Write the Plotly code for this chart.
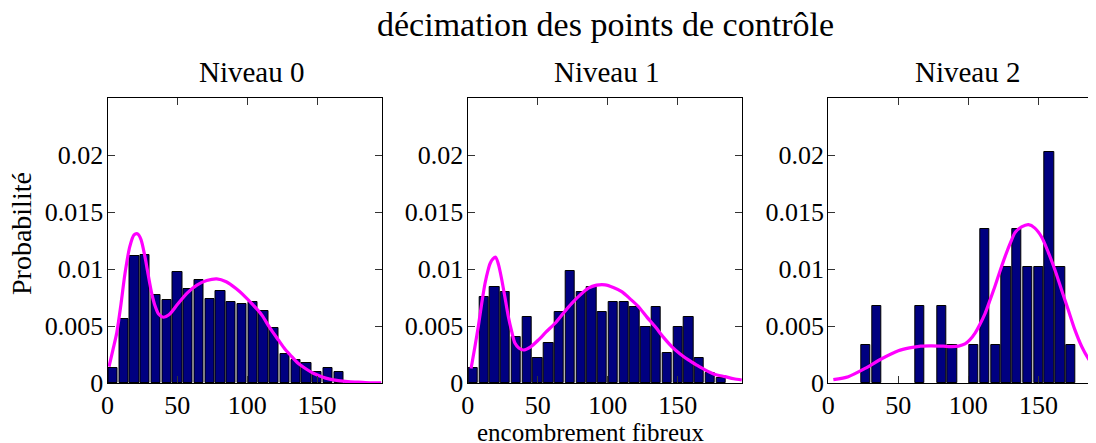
import plotly.graph_objects as go

# ---------------- data ----------------
main_title = "décimation des points de contrôle"
panel_titles = ["Niveau 0", "Niveau 1", "Niveau 2"]
x_label = "encombrement fibreux"
y_label = "Probabilité"

bin_width = 7.7
n_bins = 24

x_tick_vals = [0, 50, 100, 150]
x_tick_text = ["0", "50", "100", "150"]
y_tick_vals = [0, 0.005, 0.01, 0.015, 0.02]
y_tick_text = ["0", "0.005", "0.01", "0.015", "0.02"]

hist_level0 = [0.00132, 0.00564, 0.01117, 0.01126, 0.00775, 0.00734, 0.00977, 0.00825,
               0.00904, 0.00740, 0.00813, 0.00716, 0.00693, 0.00710, 0.00632, 0.00482,
               0.00260, 0.00205, 0.00181, 0.00099, 0.00132, 0.00102, 0.00015, 0.00012]
hist_level1 = [0.00132, 0.00760, 0.00848, 0.00804, 0.00404, 0.00579, 0.00222, 0.00357,
               0.00623, 0.00982, 0.00804, 0.00848, 0.00623, 0.00713, 0.00713, 0.00667,
               0.00491, 0.00667, 0.00269, 0.00491, 0.00579, 0.00222, 0.00091, 0.00047]
hist_level2 = [0, 0, 0, 0.00340, 0.00677, 0, 0, 0,
               0.00677, 0, 0.00677, 0.00340, 0, 0.00340, 0.01355, 0.00340,
               0.01017, 0.01355, 0.01017, 0.01017, 0.02030, 0.01017, 0.00340, 0]

fit0_x = [1.1, 4, 6.6, 9.5, 12.5, 16, 19, 21.4, 24, 26.8, 29, 31.6, 34, 36.4, 40, 44, 50,
          57, 64, 71, 78.2, 85, 92, 98.4, 104, 110.4, 116, 122.3, 127, 131.9, 136, 141.4,
          147, 153.3, 159, 165.2, 172, 179.6, 188, 196]
fit0_y = [0.00146, 0.0030, 0.0044, 0.0068, 0.0096, 0.0120, 0.0130, 0.0131, 0.0126, 0.0111,
          0.0096, 0.0079, 0.0068, 0.0061, 0.00579, 0.0060, 0.0069, 0.0079, 0.0086, 0.0090,
          0.00915, 0.0089, 0.0083, 0.0076, 0.0069, 0.0060, 0.0049, 0.0038, 0.0030, 0.00234,
          0.0018, 0.00132, 0.0009, 0.00058, 0.00037, 0.00023, 0.00014, 0.0001, 0.00005, 0.00003]

fit1_x = [2.4, 5, 7.6, 10, 12.4, 14.5, 16, 18, 20, 22, 24.3, 26.5, 29, 31.5, 33.8, 36.5,
          39.8, 45, 50.5, 56, 62.4, 68, 74.3, 80, 86.2, 92, 98.1, 104, 110, 116, 121.9, 128,
          133.8, 140, 145.7, 151.5, 157.6, 163.5, 169.5, 176, 183.8, 190, 195.7]
fit1_y = [0.0013, 0.0031, 0.0050, 0.0070, 0.00877, 0.0099, 0.0105, 0.0109, 0.01105, 0.0104,
          0.0091, 0.0076, 0.00585, 0.0045, 0.0035, 0.0031, 0.00292, 0.0032, 0.0038, 0.0045,
          0.00526, 0.0061, 0.0070, 0.0077, 0.00833, 0.0086, 0.00863, 0.0084, 0.00804, 0.0074,
          0.00673, 0.0058, 0.00497, 0.0040, 0.00322, 0.0026, 0.00205, 0.0016, 0.00117, 0.0008,
          0.00058, 0.0004, 0.00029]

fit2_x = [3.6, 14.3, 26.2, 38.1, 50, 58, 66, 74, 82, 88, 93, 97.6, 101, 104.8, 108,
          111.9, 115.5, 119, 122.5, 126.2, 130, 133.3, 138, 142.9, 147.5, 152.4, 157, 161.9,
          166.5, 171.4, 176, 181, 186, 191.2, 192.2]
fit2_y = [0.00032, 0.00058, 0.0013, 0.00215, 0.00285, 0.0031, 0.00326, 0.00328, 0.00325,
          0.00322, 0.00326, 0.00345, 0.0038, 0.0044, 0.0051, 0.0061, 0.0073, 0.0085, 0.0098,
          0.0111, 0.0123, 0.0132, 0.0137, 0.0139, 0.0136, 0.0128, 0.0115, 0.0099, 0.0082,
          0.0064, 0.0047, 0.0032, 0.0021, 0.0013, 0.0012]

x_ranges = [[0, 196.3], [0, 196.1], [0, 192.2]]
y_range = [0, 0.025]

# ---------------- layout geometry (pixels, screen coordinates) ----------------
W, H = 1096, 443
OFF = 8  # the page body shifts the figure by 8 px
panel_px = [(107.5, 381.7), (467.7, 742.3), (828.3, 1097.5)]
top_px, bottom_px = 98.0, 383.3

FONT = "Liberation Serif"
bar_fill = "#000080"
curve_col = "#ff00ff"

bin_centers = [(i + 0.5) * bin_width for i in range(n_bins)]
hists = [hist_level0, hist_level1, hist_level2]
fits = [(fit0_x, fit0_y), (fit1_x, fit1_y), (fit2_x, fit2_y)]

fig = go.Figure()
for i in range(3):
    xa = "x" if i == 0 else f"x{i+1}"
    ya = "y" if i == 0 else f"y{i+1}"
    bx = [c for c, h in zip(bin_centers, hists[i]) if h > 0]
    by = [h for h in hists[i] if h > 0]
    fig.add_trace(go.Bar(
        x=bx, y=by, width=bin_width * 0.86,
        marker=dict(color=bar_fill, line=dict(color="black", width=1)),
        xaxis=xa, yaxis=ya, showlegend=False))
    fig.add_trace(go.Scatter(
        x=fits[i][0], y=fits[i][1], mode="lines",
        line=dict(color=curve_col, width=3.2, shape="spline", smoothing=0.7),
        xaxis=xa, yaxis=ya, showlegend=False, cliponaxis=True))


def fx(px):
    return (px - OFF) / W


def fy(py):
    return 1 - (py - OFF) / H


tickfont = dict(family=FONT, size=26, color="black")
layout = dict(
    width=W, height=H,
    margin=dict(l=0, r=0, t=0, b=0, autoexpand=False),
    paper_bgcolor="white", plot_bgcolor="white",
    bargap=0, showlegend=False,
)
ydom = [fy(bottom_px), fy(top_px)]
for i in range(3):
    sfx = "" if i == 0 else str(i + 1)
    x0, x1 = panel_px[i]
    common = dict(
        ticks="inside", ticklen=7, tickwidth=1, tickcolor="#333",
        showline=True, linecolor="black", linewidth=1.3, mirror="ticks",
        showgrid=False, zeroline=False, tickfont=tickfont, automargin=False,
    )
    layout[f"xaxis{sfx}"] = dict(
        domain=[fx(x0), min(fx(x1), 1.0)], range=x_ranges[i], anchor=f"y{sfx}",
        tickvals=x_tick_vals, ticktext=x_tick_text, ticklabelstandoff=-2, **common)
    layout[f"yaxis{sfx}"] = dict(
        domain=ydom, range=y_range, anchor=f"x{sfx}",
        tickvals=y_tick_vals, ticktext=y_tick_text, ticklabelstandoff=-2, **common)

annotations = [
    dict(text=main_title, x=fx(605), y=fy(24), xref="paper", yref="paper",
         showarrow=False, font=dict(family=FONT, size=34, color="black"),
         xanchor="center", yanchor="middle"),
    dict(text=y_label, x=fx(22), y=fy(234), xref="paper", yref="paper",
         showarrow=False, textangle=-90, font=dict(family=FONT, size=28, color="black"),
         xanchor="center", yanchor="middle"),
    dict(text=x_label, x=fx(590), y=fy(432), xref="paper", yref="paper",
         showarrow=False, font=dict(family=FONT, size=25, color="black"),
         xanchor="center", yanchor="middle"),
]
title_centers = [252, 607, 968]
for i in range(3):
    annotations.append(dict(
        text=panel_titles[i], x=fx(title_centers[i]), y=fy(72), xref="paper", yref="paper",
        showarrow=False, font=dict(family=FONT, size=29, color="black"),
        xanchor="center", yanchor="middle"))
layout["annotations"] = annotations

fig.update_layout(**layout)
fig.write_html("out.html")
